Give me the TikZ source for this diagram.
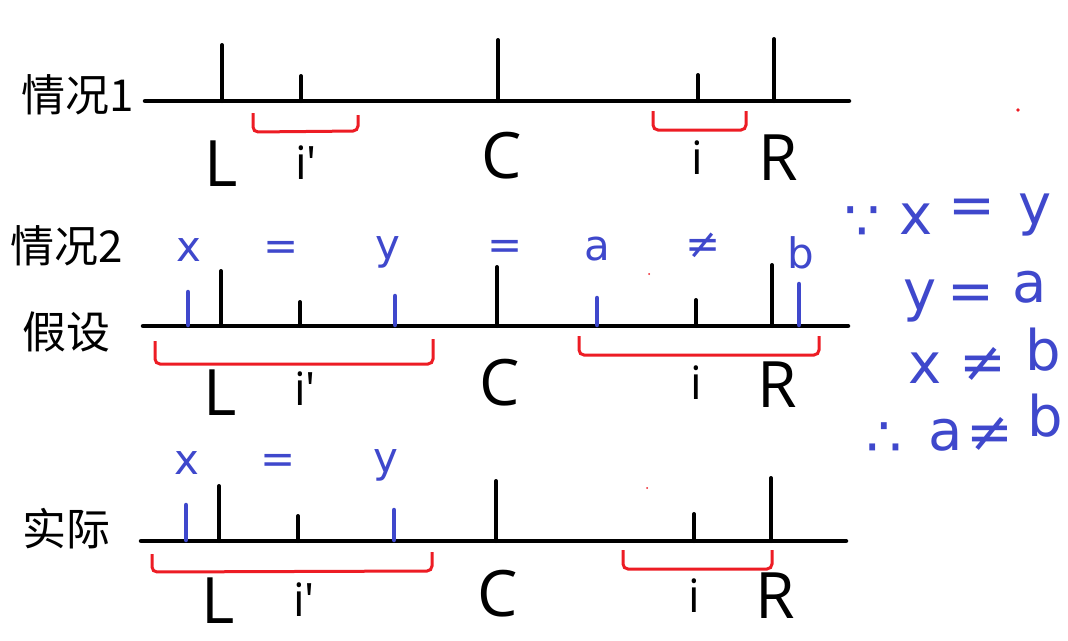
\documentclass[tikz,border=0pt]{standalone}
\usepackage{fontspec}
\setmainfont{Noto Sans CJK SC}
\newfontfamily\latinfont{Open Sans}
\newfontfamily\penfont{DejaVu Sans}
\usepackage{xcolor}
\definecolor{penblue}{HTML}{3F48CC}
\definecolor{penred}{HTML}{ED1C24}

\tikzset{
  caselabel/.style={inner sep=0pt, font=\fontsize{44}{44}\selectfont},
  bigletter/.style={inner sep=0pt, font=\fontsize{64}{64}\selectfont\latinfont},
  smallletter/.style={inner sep=0pt, font=\fontsize{46}{46}\selectfont\latinfont},
  penmark/.style={inner sep=0pt, text=penblue, font=\fontsize{42}{42}\selectfont\penfont},
  bigpenmark/.style={inner sep=0pt, text=penblue, font=\fontsize{56}{56}\selectfont\penfont},
  axisline/.style={line width=4.5pt, line cap=round},
  blacktick/.style={line width=4pt, line cap=round},
  bluetick/.style={penblue, line width=4.5pt, line cap=round},
  redbrace/.style={penred, line width=3pt, rounded corners=5pt}
}

\begin{document}
\begin{tikzpicture}[x=1pt, y=-1pt]

  \useasboundingbox (0, 0) rectangle (1068, 640);
  \fill[white] (0, 0) rectangle (1068, 640);

  % ==================== 1. CASE 1 ====================
  \node[caselabel] (case1) at (78, 95) {情况1};
  \draw[axisline] (145, 101) -- (849, 101);
  \foreach \tx/\ty in {222/45, 301/76, 498/40, 698/75, 774/39} {
    \draw[blacktick] (\tx, 101) -- (\tx, \ty);
  }
  \draw[redbrace] (253, 113) -- (253, 132) -- (358, 131) -- (358, 115);
  \draw[redbrace] (653, 111) -- (653, 130) -- (746, 130) -- (746, 111);
  \fill[penred] (1018, 110) circle (1.8);

  \node[bigletter] (L1) at (221, 164) {L};
  \node[smallletter] (ip1) at (306, 163) {i'};
  \node[bigletter] (C1) at (502, 156) {C};
  \node[smallletter] (i1) at (697, 158) {i};
  \node[bigletter] (R1) at (778, 158) {R};

  % ==================== 2. CASE 2 (ASSUMED) ====================
  \node[caselabel] (case2) at (67, 246) {情况2};
  \node[caselabel] (assume) at (66, 332) {假设};
  \draw[axisline] (143, 326) -- (848, 326);
  \foreach \tx/\ty in {221/271, 300/302, 497/267, 696/300, 772/265} {
    \draw[blacktick] (\tx, 326) -- (\tx, \ty);
  }
  \foreach \tx/\ty in {188/292, 395/296, 597/298, 799/284} {
    \draw[bluetick] (\tx, 325) -- (\tx, \ty);
  }
  \draw[redbrace] (155, 341) -- (155, 364) -- (433, 364) -- (433, 339);
  \draw[redbrace] (579, 336) -- (579, 355) -- (819, 355) -- (819, 336);
  \fill[penred] (649, 274) circle (1);

  \node[penmark] (x2) at (189, 250) {x};
  \node[penmark] (eqa2) at (281, 251) {=};
  \node[penmark] (y2) at (388, 252) {y};
  \node[penmark] (eqb2) at (505, 250) {=};
  \node[penmark] (a2) at (597, 249) {a};
  \node[penmark] (ne2) at (703, 246) {≠};
  \node[penmark] (b2) at (801, 253) {b};

  \node[bigletter] (L2) at (220, 393) {L};
  \node[smallletter] (ip2) at (305, 389) {i'};
  \node[bigletter] (C2) at (500, 383) {C};
  \node[smallletter] (i2) at (696, 383) {i};
  \node[bigletter] (R2) at (777, 385) {R};

  % ==================== 3. CASE 2 (ACTUAL) ====================
  \node[caselabel] (actual) at (66, 529) {实际};
  \draw[axisline] (141, 541) -- (846, 541);
  \foreach \tx/\ty in {219/486, 298/516, 496/481, 694/514, 771/478} {
    \draw[blacktick] (\tx, 541) -- (\tx, \ty);
  }
  \foreach \tx/\ty in {186/505, 394/510} {
    \draw[bluetick] (\tx, 540) -- (\tx, \ty);
  }
  \draw[redbrace] (152, 554) -- (152, 572) -- (432, 571) -- (432, 552);
  \draw[redbrace] (623, 550) -- (623, 569) -- (772, 569) -- (772, 550);
  \fill[penred] (647, 488) circle (1);

  \node[penmark] (x3) at (187, 463) {x};
  \node[penmark] (eq3) at (278, 464) {=};
  \node[penmark] (y3) at (386, 465) {y};

  \node[bigletter] (L3) at (218, 601) {L};
  \node[smallletter] (ip3) at (304, 600) {i'};
  \node[bigletter] (C3) at (498, 594) {C};
  \node[smallletter] (i3) at (694, 596) {i};
  \node[bigletter] (R3) at (775, 596) {R};

  % ==================== 4. REASONING ====================
  \node[bigpenmark] (since) at (862, 224) {∵};
  \node[bigpenmark] (sx) at (916, 219) {x};
  \node[bigpenmark] (seq) at (972, 212) {=};
  \node[bigpenmark] (sy) at (1035, 215) {y};

  \node[bigpenmark] (ty) at (920, 301) {y};
  \node[bigpenmark] (teq) at (971, 298) {=};
  \node[bigpenmark] (ta) at (1030, 287) {a};

  \node[bigpenmark] (ux) at (925, 368) {x};
  \node[bigpenmark] (une) at (983, 364) {≠};
  \node[bigpenmark] (ub) at (1043, 350) {b};

  \node[bigpenmark] (hence) at (884, 440) {∴};
  \node[bigpenmark] (ha) at (946, 435) {a};
  \node[bigpenmark] (hne) at (990, 434) {≠};
  \node[bigpenmark] (hb) at (1045, 416) {b};

\end{tikzpicture}
\end{document}
